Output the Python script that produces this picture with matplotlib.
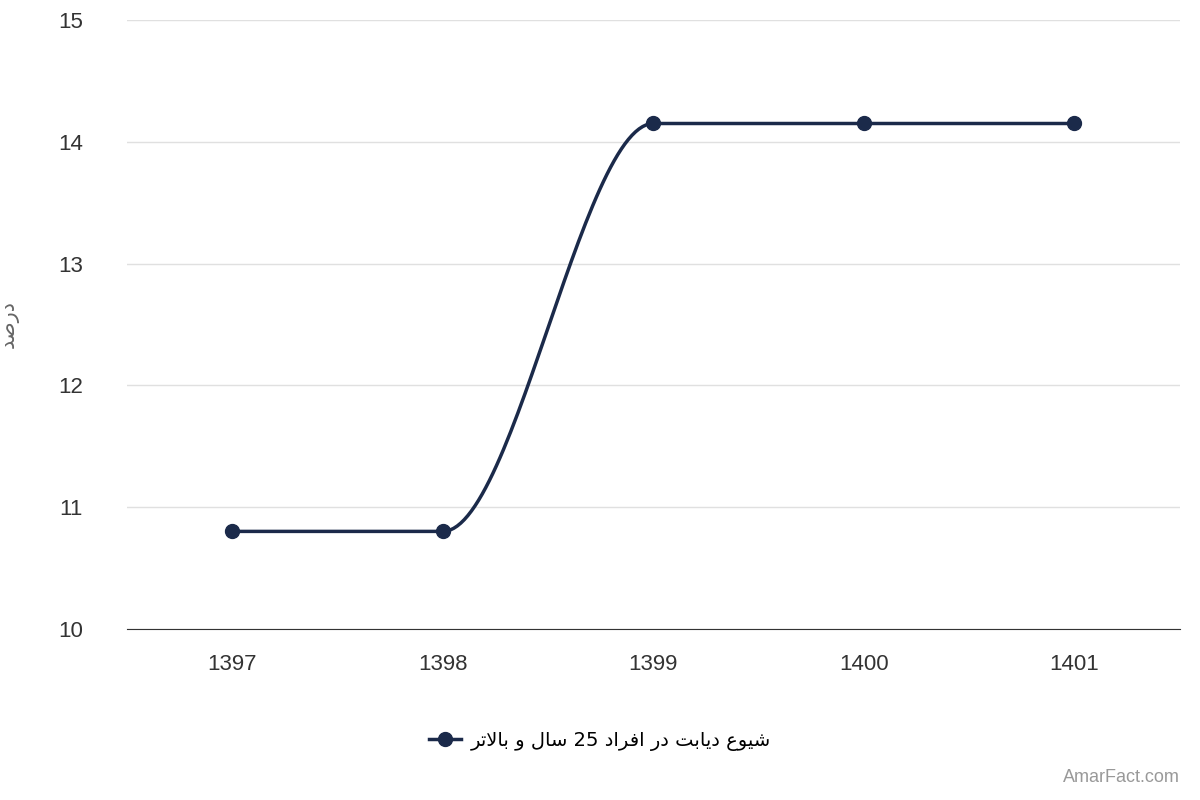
import numpy as np
import matplotlib
matplotlib.use("Agg")
import matplotlib.pyplot as plt

plt.rcParams['font.family'] = ['Liberation Sans', 'DejaVu Sans']

years = [1397, 1398, 1399, 1400, 1401]
values = [10.8, 10.8, 14.15, 14.15, 14.15]
yticks = [10, 11, 12, 13, 14, 15]
series_name = "شیوع دیابت در افراد 25 سال و بالاتر"
ylabel = "درصد"
color = "#1b2a4a"

FORMS = {
    'ا': (0xFE8D, 0xFE8E, None, None), 'ب': (0xFE8F, 0xFE90, 0xFE91, 0xFE92),
    'ت': (0xFE95, 0xFE96, 0xFE97, 0xFE98), 'د': (0xFEA9, 0xFEAA, None, None),
    'ر': (0xFEAD, 0xFEAE, None, None), 'س': (0xFEB1, 0xFEB2, 0xFEB3, 0xFEB4),
    'ش': (0xFEB5, 0xFEB6, 0xFEB7, 0xFEB8), 'ص': (0xFEB9, 0xFEBA, 0xFEBB, 0xFEBC),
    'ع': (0xFEC9, 0xFECA, 0xFECB, 0xFECC), 'ف': (0xFED1, 0xFED2, 0xFED3, 0xFED4),
    'ل': (0xFEDD, 0xFEDE, 0xFEDF, 0xFEE0), 'و': (0xFEED, 0xFEEE, None, None),
    'ی': (0xFBFC, 0xFBFD, 0xFBFE, 0xFBFF),
}

def shape_word(w):
    if not any(c in FORMS for c in w):
        return w
    chars = list(w)
    out = []
    i = 0
    while i < len(chars):
        c = chars[i]
        prev_joins = i > 0 and chars[i-1] in FORMS and FORMS[chars[i-1]][2] is not None
        if c == 'ل' and i + 1 < len(chars) and chars[i+1] == 'ا':
            out.append(chr(0xFEFC if prev_joins else 0xFEFB))
            i += 2
            continue
        f = FORMS[c]
        next_joins = i + 1 < len(chars) and chars[i+1] in FORMS and f[2] is not None
        if prev_joins and next_joins:
            out.append(chr(f[3]))
        elif prev_joins:
            out.append(chr(f[1]))
        elif next_joins:
            out.append(chr(f[2]))
        else:
            out.append(chr(f[0]))
        i += 1
    return ''.join(reversed(out))

def rtl(s):
    return ' '.join(shape_word(w) for w in reversed(s.split(' ')))

fig = plt.figure(figsize=(12, 8), dpi=100)
ax = fig.add_axes([0.106, 0.214, 0.877, 0.761])

xs, ys = [], []
for i in range(len(years) - 1):
    t = np.linspace(0, 1, 60)
    h = 3 * t**2 - 2 * t**3
    xs.append(years[i] + t * (years[i+1] - years[i]))
    ys.append(values[i] + h * (values[i+1] - values[i]))
ax.plot(np.concatenate(xs), np.concatenate(ys), color=color, lw=2.5, zorder=3)
ax.plot(years, values, 'o', color=color, ms=10, zorder=4)

ax.set_xlim(1396.5, 1401.5)
ax.set_ylim(10, 15)
ax.set_yticks(yticks)
ax.set_xticks(years)
ax.set_xticklabels([str(y) for y in years])
ax.grid(axis='y', color='#e0e0e0', lw=1)
ax.set_axisbelow(True)
for s in ['top', 'right', 'left']:
    ax.spines[s].set_visible(False)
ax.spines['bottom'].set_color('#333333')
ax.tick_params(axis='both', length=0, labelsize=16, colors='#333333')
ax.tick_params(axis='x', pad=18)
ax.tick_params(axis='y', pad=32)
ax.set_ylabel(rtl(ylabel), fontsize=15, color='#666666', labelpad=28,
              family=['DejaVu Sans'])

ax.plot([], [], '-o', color=color, lw=2.5, ms=10, label=rtl(series_name))
leg = fig.legend(loc='center', bbox_to_anchor=(0.5, 0.074), frameon=False, fontsize=14,
                 handlelength=1.6, handletextpad=0.5,
                 prop={'family': ['DejaVu Sans'], 'size': 14})
fig.text(0.983, 0.018, "AmarFact.com", ha='right', va='bottom', fontsize=13, color='#999999')

fig.savefig("out.png", dpi=100)
